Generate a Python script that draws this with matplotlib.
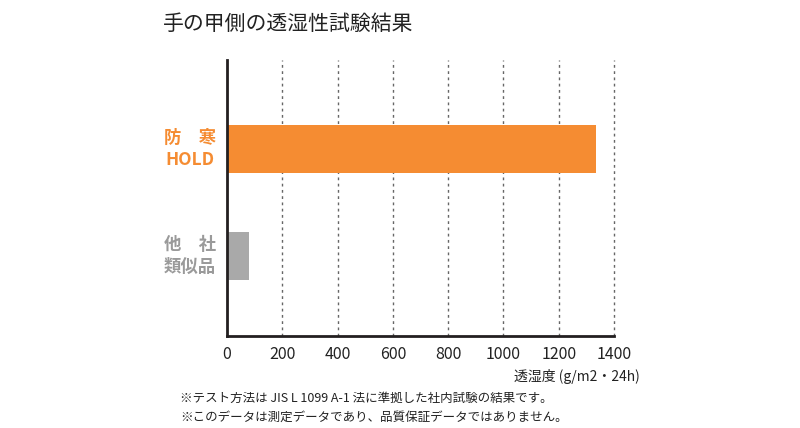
import matplotlib
matplotlib.use("Agg")
import matplotlib.pyplot as plt
import matplotlib.transforms as mtransforms

plt.rcParams['font.family'] = ['Noto Sans CJK JP', 'DejaVu Sans']

# data
categories = ['防　寒\nHOLD', '他　社\n類似品']
values = [1335, 80]
bar_colors = ['#F58C32', '#A9A9A9']
label_colors = ['#F58C32', '#9A9A9A']
xticks = [0, 200, 400, 600, 800, 1000, 1200, 1400]

fig = plt.figure(figsize=(8, 4.28), dpi=100)
ax = fig.add_axes([0.28375, 0.215, 0.48375, 0.645])

ypos = list(range(len(categories)))
ax.barh(ypos, values, height=0.45, color=bar_colors)

ax.set_xlim(0, 1400)
ax.set_ylim(1.75, -0.83)

for x in xticks[1:]:
    ax.axvline(x, color='#666666', linestyle=(0, (2, 2.5)), linewidth=1,
               zorder=0, clip_on=False)

ax.set_xticks(xticks)
ax.set_xticklabels([str(t) for t in xticks], fontsize=11.5, color='#222222')
ax.tick_params(axis='x', length=0, pad=7)
ax.set_yticks([])

for s in ['top', 'right']:
    ax.spines[s].set_visible(False)
ax.spines['left'].set_linewidth(2)
ax.spines['left'].set_color('#231F20')
ax.spines['bottom'].set_linewidth(2)
ax.spines['bottom'].set_color('#231F20')

trans = mtransforms.blended_transform_factory(ax.transAxes, ax.transData)
for y, lab, c in zip(ypos, categories, label_colors):
    ax.text(-0.096, y, lab, ha='center', va='center', fontsize=12.5,
            fontweight='bold', color=c, linespacing=1.3, transform=trans)

fig.text(0.204, 0.945, '手の甲側の透湿性試験結果', fontsize=15, color='#222222',
         va='center', ha='left')
fig.text(0.80, 0.121, '透湿度 (g/m2・24h)', fontsize=10, color='#222222',
         ha='right', va='center')
fig.text(0.225, 0.07, '※テスト方法は JIS L 1099 A-1 法に準拠した社内試験の結果です。',
         fontsize=9, color='#222222', ha='left', va='center')
fig.text(0.225, 0.024, '※このデータは測定データであり、品質保証データではありません。',
         fontsize=9, color='#222222', ha='left', va='center')

fig.savefig('out.png', dpi=100)
